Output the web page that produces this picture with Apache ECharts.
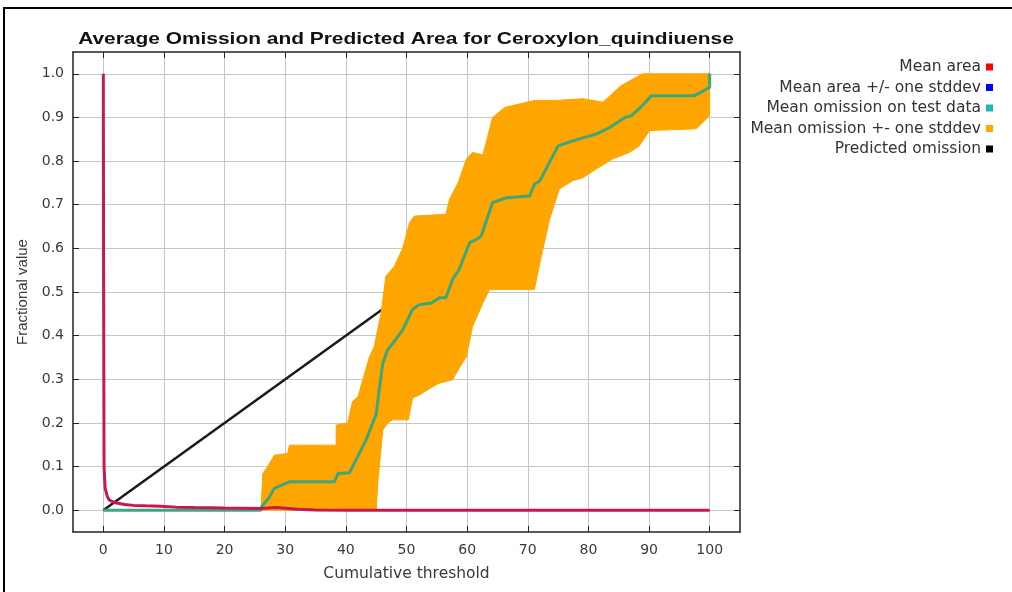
<!DOCTYPE html>
<html>
<head>
<meta charset="utf-8">
<script src="https://cdn.jsdelivr.net/npm/echarts@6/dist/echarts.min.js"></script>
<style>
  html, body { margin: 0; padding: 0; background: #fff; }
  #chart { width: 1012px; height: 592px; }
</style>
</head>
<body>
<div id="chart"></div>
<script>
// tick positions
const xTicks = [0, 10, 20, 30, 40, 50, 60, 70, 80, 90, 100];
const yTicks = [0, 0.1, 0.2, 0.3, 0.4, 0.5, 0.6, 0.7, 0.8, 0.9, 1.0];

const seriesNames = [
    'Mean area',
    'Mean area +/- one stddev',
    'Mean omission on test data',
    'Mean omission +- one stddev',
    'Predicted omission'
];

// [threshold, fraction]
const meanArea = [
    [0, 1.0], [0.05, 0.5], [0.12, 0.1], [0.3, 0.05], [0.7, 0.03], [1, 0.023],
    [2, 0.017], [3.5, 0.013], [5, 0.011], [7, 0.01], [9.5, 0.009], [12, 0.007],
    [15, 0.006], [20, 0.005], [26, 0.004], [28.5, 0.006], [30.5, 0.004],
    [32, 0.002], [35, 0.0005], [40, 0], [100, 0]
];

const meanOmission = [
    [0, 0], [26, 0], [26.1, 0.008], [27.4, 0.03], [28.2, 0.05], [29.3, 0.057],
    [30.7, 0.065], [38.1, 0.065], [38.7, 0.084], [40.6, 0.086], [43.3, 0.16],
    [45, 0.22], [45.5, 0.276], [46.1, 0.337], [46.9, 0.368], [48, 0.387],
    [49.4, 0.414], [51, 0.46], [52.1, 0.471], [54.1, 0.475], [55.4, 0.487],
    [56.5, 0.487], [57.6, 0.529], [58.7, 0.552], [60.4, 0.613], [61.5, 0.62],
    [62.3, 0.628], [64.2, 0.705], [66.5, 0.716], [70.3, 0.72], [71.1, 0.747],
    [72, 0.755], [75, 0.835], [75.8, 0.839], [78.5, 0.851], [81.3, 0.862],
    [83.5, 0.877], [86, 0.9], [87.1, 0.904], [88.4, 0.92], [90.4, 0.95],
    [97.5, 0.95], [100, 0.969], [100, 1.0]
];

const omissionUpper = [
    [26, 0], [26.3, 0.084], [27.1, 0.1], [28.2, 0.126], [30.4, 0.13],
    [30.7, 0.149], [38.4, 0.149], [38.4, 0.195], [40.3, 0.2], [41.1, 0.249],
    [42, 0.26], [42.8, 0.299], [43.9, 0.352], [44.7, 0.375], [45.8, 0.452],
    [46.6, 0.536], [48, 0.559], [49.4, 0.601], [50.5, 0.659], [51.3, 0.674],
    [56.5, 0.678], [57.1, 0.713], [58.5, 0.75], [59.9, 0.805], [60.9, 0.82],
    [62.6, 0.814], [64.2, 0.9], [66.2, 0.923], [71.1, 0.939], [74.7, 0.939],
    [79.1, 0.943], [82.4, 0.935], [85.4, 0.973], [88.4, 0.996], [88.9, 1.0],
    [100, 1.0]
];

const omissionLower = [
    [26, 0], [45, 0], [45.3, 0.069], [46.1, 0.184], [46.9, 0.2], [47.7, 0.207],
    [50.3, 0.207], [51, 0.257], [52.1, 0.264], [54.3, 0.283], [55.4, 0.291],
    [57.6, 0.299], [58.7, 0.326], [59.9, 0.352], [60.1, 0.368], [60.9, 0.421],
    [62.6, 0.475], [63.7, 0.506], [71.1, 0.506], [72, 0.567], [73.6, 0.667],
    [75.2, 0.736], [77.4, 0.755], [79.1, 0.762], [81.3, 0.782], [84, 0.805],
    [86.8, 0.82], [88.4, 0.835], [90.1, 0.87], [97.8, 0.874], [100, 0.904]
];

const predictedOmission = [[0, 0], [100, 1]];

const chart = echarts.init(document.getElementById('chart'));

// band polygon = upper edge then lower edge reversed
const bandPoints = omissionUpper.concat(omissionLower.slice().reverse());

const frameColor = '#222';
const labelColor = '#3a3a3a';
const wideFont = '"DejaVu Sans", sans-serif';

function frameAxis(extra) {
    return Object.assign({
        type: 'value',
        axisLine: { show: true, onZero: false, lineStyle: { color: frameColor, width: 1.5 } },
        axisTick: { show: true, inside: true, length: 6, lineStyle: { color: frameColor } },
        axisLabel: { show: false },
        splitLine: { show: false }
    }, extra);
}

const option = {
    animation: false,
    backgroundColor: '#fff',
    graphic: [
        {
            type: 'rect',
            shape: { x: 4, y: 8, width: 1100, height: 700 },
            style: { fill: 'none', stroke: '#000', lineWidth: 2 },
            silent: true
        },
        {
            // title is stretched sideways in the original
            type: 'text',
            x: 406,
            y: 31,
            scaleX: 1.23,
            style: {
                text: 'Average Omission and Predicted Area for Ceroxylon_quindiuense',
                align: 'center',
                font: 'bold 17px "Liberation Sans", Arial, sans-serif',
                fill: '#111'
            }
        }
    ],
    legend: {
        orient: 'vertical',
        right: 14,
        top: 54,
        align: 'right',
        icon: 'rect',
        itemWidth: 7,
        itemHeight: 7,
        itemGap: 4.5,
        textStyle: { fontSize: 15.5, color: '#333', fontFamily: wideFont, lineHeight: 16 },
        data: [
            { name: seriesNames[0], itemStyle: { color: '#ff0000' } },
            { name: seriesNames[1], itemStyle: { color: '#0000ff' } },
            { name: seriesNames[2], itemStyle: { color: '#1fb5b5' } },
            { name: seriesNames[3], itemStyle: { color: '#ffa500' } },
            { name: seriesNames[4], itemStyle: { color: '#000000' } }
        ]
    },
    grid: { left: 73, right: 272, top: 52, bottom: 60 },
    xAxis: [
        frameAxis({
            min: -5, max: 105,
            position: 'bottom',
            name: 'Cumulative threshold',
            nameLocation: 'middle',
            nameGap: 34,
            nameTextStyle: { fontSize: 15.5, color: labelColor, fontFamily: wideFont },
            axisTick: { show: true, inside: true, length: 6, customValues: xTicks, lineStyle: { color: frameColor } },
            axisLabel: { show: true, customValues: xTicks, margin: 11, fontSize: 14, color: labelColor, fontFamily: wideFont },
            splitLine: { show: true, lineStyle: { color: '#c6c6c6', width: 1 } }
        }),
        frameAxis({
            min: -5, max: 105,
            position: 'top',
            axisTick: { show: true, inside: true, length: 6, customValues: xTicks, lineStyle: { color: frameColor } }
        })
    ],
    yAxis: [
        frameAxis({
            min: -0.05, max: 1.05,
            position: 'left',
            name: 'Fractional value',
            nameLocation: 'middle',
            nameGap: 40,
            nameTextStyle: { fontSize: 15, color: labelColor, fontFamily: 'Liberation Sans' },
            axisTick: { show: true, inside: true, length: 6, customValues: yTicks, lineStyle: { color: frameColor } },
            axisLabel: {
                show: true, customValues: yTicks, margin: 9, fontSize: 14, color: labelColor,
                fontFamily: wideFont,
                formatter: v => v.toFixed(1)
            },
            splitLine: { show: true, lineStyle: { color: '#c6c6c6', width: 1 } }
        }),
        frameAxis({
            min: -0.05, max: 1.05,
            position: 'right',
            axisTick: { show: true, inside: true, length: 6, customValues: yTicks, lineStyle: { color: frameColor } }
        })
    ],
    series: [
        {
            name: seriesNames[4],
            type: 'line',
            data: predictedOmission,
            symbol: 'none',
            z: 1,
            lineStyle: { color: '#1a1a1a', width: 2.5 },
            itemStyle: { color: '#000' }
        },
        {
            name: seriesNames[3],
            type: 'custom',
            z: 2,
            itemStyle: { color: '#ffa500' },
            data: [0],
            renderItem: function (params, api) {
                const pts = bandPoints.map(p => api.coord(p));
                return {
                    type: 'polygon',
                    shape: { points: pts },
                    style: { fill: '#ffa500', stroke: '#ffa500', lineWidth: 1 }
                };
            }
        },
        {
            name: seriesNames[2],
            type: 'line',
            data: meanOmission,
            symbol: 'none',
            z: 3,
            lineStyle: { color: '#3ea67c', width: 3 },
            itemStyle: { color: '#1fb5b5' }
        },
        {
            name: seriesNames[1],
            type: 'line',
            data: [],
            symbol: 'none',
            z: 4,
            lineStyle: { color: '#0000ff', width: 1 },
            itemStyle: { color: '#0000ff' }
        },
        {
            name: seriesNames[0],
            type: 'line',
            data: meanArea,
            symbol: 'none',
            z: 5,
            lineStyle: { color: '#c8184f', width: 3 },
            itemStyle: { color: '#ff0000' }
        }
    ]
};

chart.setOption(option);
</script>
</body>
</html>
